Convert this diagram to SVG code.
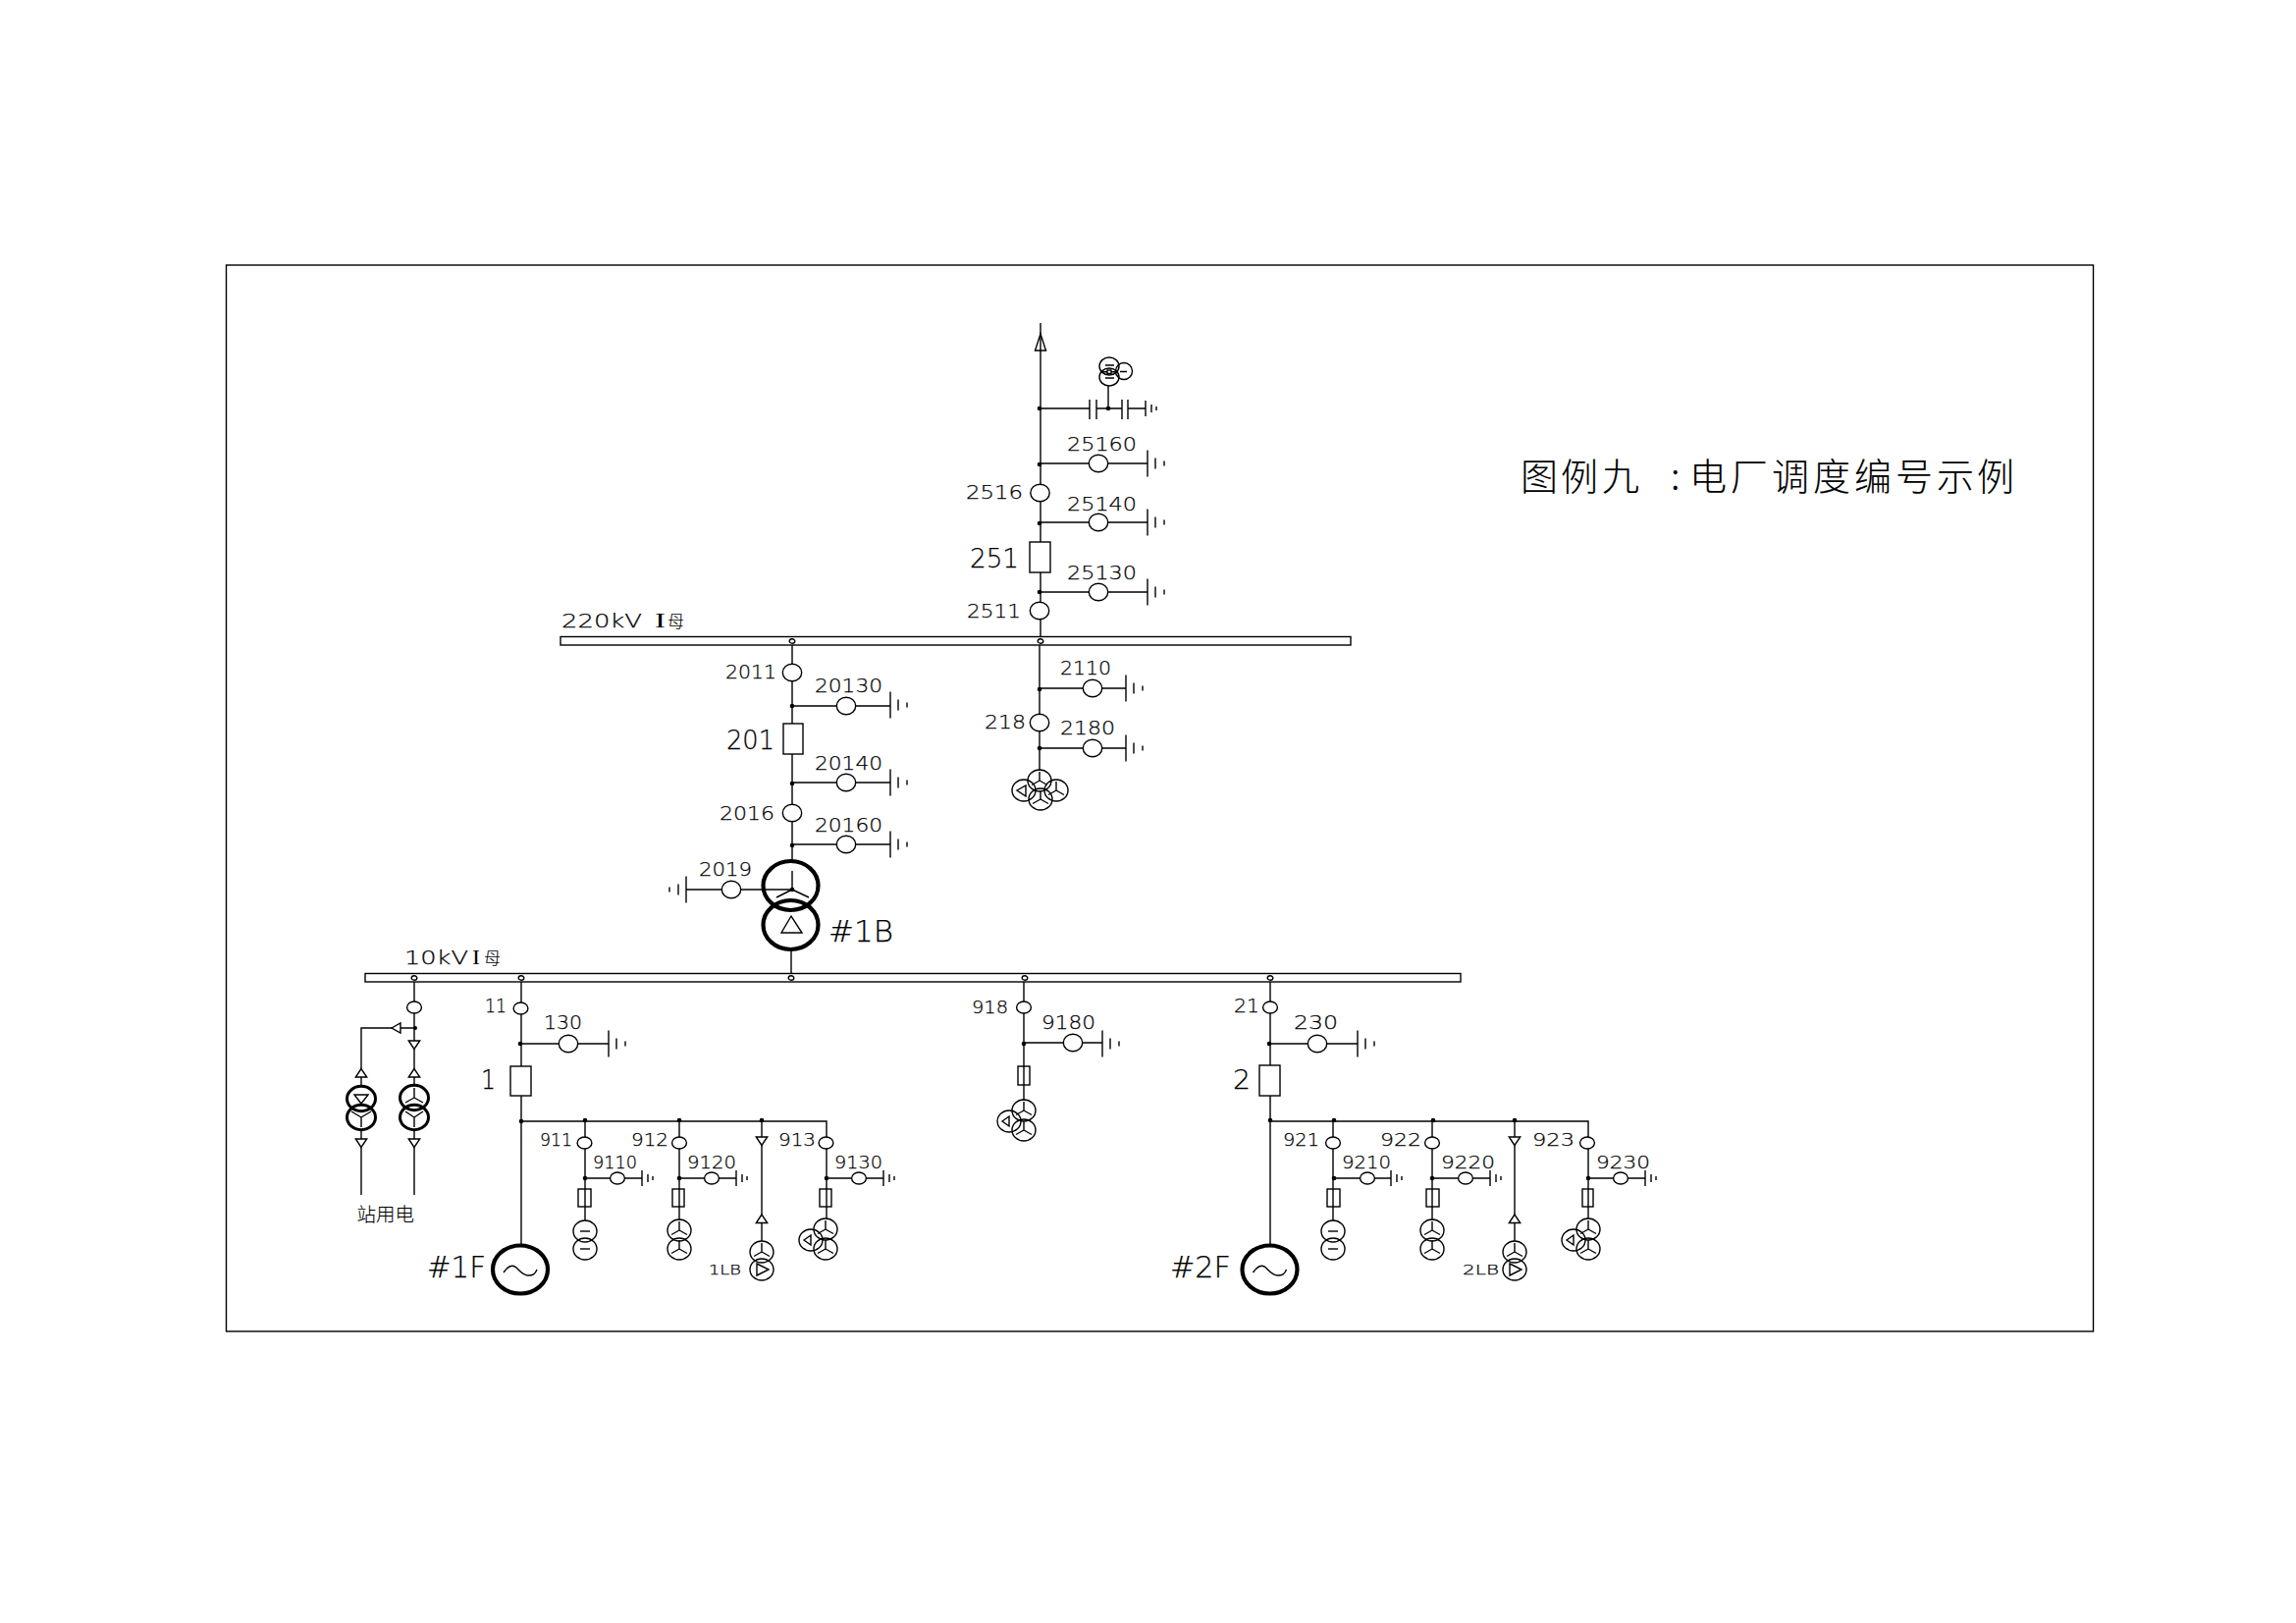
<svg xmlns="http://www.w3.org/2000/svg" width="2339" height="1653" viewBox="0 0 2339 1653">
<style>
text{font-family:"DejaVu Sans","Liberation Sans",sans-serif;font-weight:200;fill:#000;stroke:#000;stroke-width:.25}
.a{font-size:20px}.b{font-size:26px}.c{font-size:30px}.d{font-size:17.5px}.e{font-size:14px}
.z{font-family:"Noto Sans CJK SC","Noto Sans CJK JP",sans-serif;font-weight:300;stroke-width:.1}
.i{font-family:"Liberation Serif",serif;stroke:none}
path,rect,ellipse,polygon{stroke:#000;stroke-width:1.4;fill:none}
.w{fill:#fff}.k{stroke-width:4.2}.m{stroke-width:3}
.dot{fill:#000;stroke:none}
</style>
<defs>
<ellipse id="d" rx="9.7" ry="8.7" class="w"/>
<ellipse id="ds" rx="7.4" ry="6" class="w"/>
<ellipse id="mk" rx="2.8" ry="2.2" class="w"/>
<ellipse id="c" rx="12" ry="11"/>
<g id="gl"><path d="M0,-13.5V13.5M8,-5.5V5.5M17,-2.5V2.5"/></g>
<g id="gs"><path d="M0,-8V8M6,-4V4M11,-2V2"/></g>
<path id="star" d="M0,-9V0M0,0L-8,4.5M0,0L8,4.5"/>
<path id="dash" d="M-5,0H5"/>
<polygon id="tu" points="0,-4.5 -5.7,4 5.7,4" class="w"/>
<polygon id="td" points="0,4.5 -5.7,-4 5.7,-4" class="w"/>
<polygon id="tl" points="-4.5,0 4.5,-5 4.5,5" class="w"/>
<g id="gen"><ellipse rx="28" ry="24.5" class="k"/><path d="M-17,3C-13,-3 -8,-6 -4,-2S3,6 8,6S15,5 17,0"/></g>
<g id="dd"><use href="#c" y="-9"/><use href="#c" y="9"/><use href="#dash" y="-9"/><use href="#dash" y="9"/></g>
<g id="yy"><use href="#c" y="-9.5"/><use href="#c" y="9.5"/><use href="#star" y="-9.5"/><use href="#star" y="9.5"/></g>
<g id="tri"><use href="#c" x="15" y="-10"/><use href="#c" x="15" y="10"/><use href="#c" y="1"/><use href="#star" x="15" y="-10"/><use href="#star" x="15" y="10"/><polygon points="-7,1 0,-4 0,6"/></g>
<g id="lb"><use href="#c" y="-9"/><use href="#c" y="9"/><use href="#star" y="-9"/><polygon points="-5,3 -5,15 7,9"/></g>
</defs>

<rect id="frame" x="230.5" y="270" width="1902" height="1086"/>

<g id="connectors">
<path d="M1060,329V648M1059,657V785M1060,416H1110M1117,416H1143M1149,416H1167M1129,416V393M1060,472H1169M1060,532H1169M1060,603H1169M1059,701H1147M1059,762H1147"/>
<path d="M807,657V877M807,719H907M807,797H907M807,860H907M699,906H807M806,967V991"/>
<path d="M422,1000V1106M423,1047H368V1106M422,1150V1217M368,1150V1217"/>
<path d="M531,1000V1268M531,1063H620M531,1142H842V1241M596,1142V1243M596,1200H654M692,1142V1243M692,1200H750M776,1142V1264M842,1200H900"/>
<path d="M1043,1000V1121M1043,1062H1123"/>
<path d="M1294,1000V1268M1294,1063H1383M1294,1142H1618V1241M1358,1142V1243M1358,1200H1417M1459,1142V1243M1459,1200H1518M1543,1142V1264M1618,1200H1676"/>
<g class="dots">
<circle class="dot" cx="1059" cy="416" r="2.3"/><circle class="dot" cx="1129" cy="416" r="2.3"/><circle class="dot" cx="1059" cy="473" r="2.3"/><circle class="dot" cx="1059" cy="533" r="2.3"/><circle class="dot" cx="1059" cy="603" r="2.3"/><circle class="dot" cx="1059" cy="702" r="2.3"/><circle class="dot" cx="1059" cy="762" r="2.3"/>
<circle class="dot" cx="807" cy="719" r="2.3"/><circle class="dot" cx="807" cy="798" r="2.3"/><circle class="dot" cx="807" cy="861" r="2.3"/><circle class="dot" cx="807" cy="906" r="2.3"/>
<circle class="dot" cx="423" cy="1047" r="2"/><circle class="dot" cx="530" cy="1063" r="2.3"/><circle class="dot" cx="531" cy="1142" r="2.3"/><circle class="dot" cx="596" cy="1141" r="2.3"/><circle class="dot" cx="692" cy="1141" r="2.3"/><circle class="dot" cx="776" cy="1141" r="2.3"/><circle class="dot" cx="596" cy="1200" r="2.3"/><circle class="dot" cx="692" cy="1200" r="2.3"/><circle class="dot" cx="842" cy="1200" r="2.3"/>
<circle class="dot" cx="1043" cy="1063" r="2.3"/>
<circle class="dot" cx="1293" cy="1063" r="2.3"/><circle class="dot" cx="1294" cy="1141" r="2.3"/><circle class="dot" cx="1359" cy="1141" r="2.3"/><circle class="dot" cx="1460" cy="1141" r="2.3"/><circle class="dot" cx="1543" cy="1141" r="2.3"/><circle class="dot" cx="1359" cy="1200" r="2.3"/><circle class="dot" cx="1459" cy="1200" r="2.3"/><circle class="dot" cx="1618" cy="1200" r="2.3"/>
</g>
</g>

<g id="bus220"><rect x="571" y="648.5" width="805" height="8.5" class="w"/><use href="#mk" x="807" y="653"/><use href="#mk" x="1060" y="653"/>
<text class="a" x="572" y="639"><tspan textLength="82" lengthAdjust="spacingAndGlyphs">220kV</tspan> <tspan x="667" class="i" textLength="11" lengthAdjust="spacingAndGlyphs">I</tspan><tspan x="680" class="z" font-size="17">母</tspan></text></g>
<g id="bus10"><rect x="372" y="991.5" width="1116" height="8.5" class="w"/><use href="#mk" x="422" y="996"/><use href="#mk" x="531" y="996"/><use href="#mk" x="806" y="996"/><use href="#mk" x="1044" y="996"/><use href="#mk" x="1294" y="996"/>
<text class="a" x="412" y="982"><tspan textLength="65" lengthAdjust="spacingAndGlyphs">10kV</tspan> <tspan x="481" class="i" textLength="8" lengthAdjust="spacingAndGlyphs">I</tspan><tspan x="493" class="z" font-size="17">母</tspan></text></g>

<g id="line-arrow"><polygon points="1060,340 1054.5,357 1065.5,357"/></g>
<g id="pt"><path d="M1110,407V427M1117,407V427M1143,407V427M1149,407V427"/><use href="#gs" x="1167" y="416"/>
<ellipse cx="1130" cy="373" rx="10" ry="9"/><ellipse cx="1130" cy="384" rx="10" ry="9"/><ellipse cx="1145" cy="378" rx="8.5" ry="8.5"/><path d="M1126,372H1135M1126,385H1135M1141,378.5H1148M1123,378.7H1138" /><rect x="1128" y="377" width="4" height="3.4" class="w"/></g>

<g id="n25160"><use href="#d" x="1119" y="472"/><use href="#gl" x="1169" y="472"/><text class="a" x="1087" y="459" textLength="71" lengthAdjust="spacingAndGlyphs">25160</text></g>
<g id="n2516"><use href="#d" x="1059.5" y="502"/><text class="a" x="984" y="508" textLength="58" lengthAdjust="spacingAndGlyphs">2516</text></g>
<g id="n25140"><use href="#d" x="1119" y="532"/><use href="#gl" x="1169" y="532"/><text class="a" x="1087" y="520" textLength="71" lengthAdjust="spacingAndGlyphs">25140</text></g>
<g id="n251"><rect x="1049" y="552" width="21" height="31" class="w"/><text class="b" x="988" y="578" textLength="50" lengthAdjust="spacingAndGlyphs">251</text></g>
<g id="n25130"><use href="#d" x="1119" y="603"/><use href="#gl" x="1169" y="603"/><text class="a" x="1087" y="590" textLength="71" lengthAdjust="spacingAndGlyphs">25130</text></g>
<g id="n2511"><use href="#d" x="1059" y="622"/><text class="a" x="985" y="629" textLength="55" lengthAdjust="spacingAndGlyphs">2511</text></g>

<g id="n2110"><use href="#d" x="1113" y="701"/><use href="#gl" x="1147" y="701"/><text class="a" x="1080" y="687" textLength="52" lengthAdjust="spacingAndGlyphs">2110</text></g>
<g id="n218"><use href="#d" x="1059" y="736"/><text class="a" x="1003" y="742" textLength="42" lengthAdjust="spacingAndGlyphs">218</text></g>
<g id="n2180"><use href="#d" x="1113" y="762"/><use href="#gl" x="1147" y="762"/><text class="a" x="1080" y="748" textLength="56" lengthAdjust="spacingAndGlyphs">2180</text></g>
<g id="t218"><use href="#c" x="1059" y="795"/><use href="#c" x="1043" y="805"/><use href="#c" x="1076" y="805"/><use href="#c" x="1060" y="814"/><use href="#star" x="1059" y="795"/><use href="#star" x="1076" y="805"/><use href="#star" x="1060" y="814"/><polygon points="1036,805 1045,800 1045,811"/></g>

<g id="n2011"><use href="#d" x="807" y="685"/><text class="a" x="739" y="691" textLength="52" lengthAdjust="spacingAndGlyphs">2011</text></g>
<g id="n20130"><use href="#d" x="862" y="719"/><use href="#gl" x="907" y="718"/><text class="a" x="830" y="705" textLength="69" lengthAdjust="spacingAndGlyphs">20130</text></g>
<g id="n201"><rect x="798" y="737" width="20" height="31" class="w"/><text class="b" x="740" y="763" textLength="49" lengthAdjust="spacingAndGlyphs">201</text></g>
<g id="n20140"><use href="#d" x="862" y="797"/><use href="#gl" x="907" y="797"/><text class="a" x="830" y="784" textLength="69" lengthAdjust="spacingAndGlyphs">20140</text></g>
<g id="n2016"><use href="#d" x="807" y="828"/><text class="a" x="733" y="835" textLength="56" lengthAdjust="spacingAndGlyphs">2016</text></g>
<g id="n20160"><use href="#d" x="862" y="860"/><use href="#gl" x="907" y="860"/><text class="a" x="830" y="847" textLength="69" lengthAdjust="spacingAndGlyphs">20160</text></g>
<g id="n2019"><use href="#d" x="745" y="906"/><use href="#gl" x="699" y="906" transform="matrix(-1 0 0 1 1398 0)"/><text class="a" x="712" y="892" textLength="54" lengthAdjust="spacingAndGlyphs">2019</text></g>
<g id="t1B"><ellipse cx="805.5" cy="902" rx="28" ry="25" class="k"/><ellipse cx="805.5" cy="942" rx="28" ry="25" class="k"/><path d="M807,887V906M807,906L791,914M807,906L824,914"/><polygon points="806,933 796,950 817,950"/><text class="c" x="844" y="959" textLength="66" lengthAdjust="spacingAndGlyphs">#1B</text></g>

<g id="station"><use href="#ds" x="422" y="1026"/><use href="#tl" x="403.5" y="1047"/><use href="#td" x="422" y="1064"/><use href="#tu" x="422" y="1093"/><use href="#tu" x="368" y="1093"/>
<ellipse cx="368" cy="1119" rx="14.5" ry="12.7" class="m"/><ellipse cx="368" cy="1138" rx="14.5" ry="12.7" class="m"/><ellipse cx="422" cy="1118" rx="14.5" ry="12.7" class="m"/><ellipse cx="422" cy="1138" rx="14.5" ry="12.7" class="m"/>
<polygon points="361,1115 375,1115 368,1124"/><path d="M368,1138V1148M368,1138L358,1132M368,1138L378,1132M422,1108V1118M422,1118L413,1123M422,1118L431,1123M422,1138V1148M422,1138L413,1132M422,1138L431,1132"/>
<use href="#td" x="368" y="1164"/><use href="#td" x="422" y="1164"/>
<text class="z" x="363.5" y="1244" font-size="19.5">站用电</text></g>

<g id="n11"><use href="#ds" x="530.5" y="1027"/><text class="a" x="494" y="1031" textLength="22" lengthAdjust="spacingAndGlyphs">11</text></g>
<g id="n130"><use href="#d" x="579" y="1063"/><use href="#gl" x="620" y="1063"/><text class="a" x="554" y="1048" textLength="39" lengthAdjust="spacingAndGlyphs">130</text></g>
<g id="n1"><rect x="520" y="1086" width="21" height="30" class="w"/><text class="b" x="490" y="1109" textLength="15" lengthAdjust="spacingAndGlyphs">1</text></g>
<g id="g1F"><use href="#gen" x="530" y="1293"/><text class="c" x="435" y="1301" textLength="60" lengthAdjust="spacingAndGlyphs">#1F</text></g>

<g id="n911"><use href="#ds" x="595.5" y="1164"/><text class="d" x="550" y="1167" textLength="33" lengthAdjust="spacingAndGlyphs">911</text></g>
<g id="n9110"><use href="#ds" x="629" y="1200"/><use href="#gs" x="654" y="1200"/><rect x="589" y="1211" width="13" height="18"/><text class="d" x="604" y="1190" textLength="45" lengthAdjust="spacingAndGlyphs">9110</text></g>
<use id="t911" href="#dd" x="596" y="1263"/>
<g id="n912"><use href="#ds" x="692" y="1164"/><text class="d" x="643" y="1167" textLength="38" lengthAdjust="spacingAndGlyphs">912</text></g>
<g id="n9120"><use href="#ds" x="725" y="1200"/><use href="#gs" x="750" y="1200"/><rect x="685" y="1211" width="12" height="18"/><text class="d" x="700" y="1190" textLength="50" lengthAdjust="spacingAndGlyphs">9120</text></g>
<use id="t912" href="#yy" x="692" y="1262.5"/>
<g id="lb1"><use href="#td" x="776" y="1162"/><use href="#tu" x="776" y="1241.5"/><use href="#lb" x="776" y="1284"/><text class="e" x="722" y="1298" textLength="33" lengthAdjust="spacingAndGlyphs">1LB</text></g>
<g id="n913"><use href="#ds" x="841.5" y="1164"/><text class="d" x="793" y="1167" textLength="38" lengthAdjust="spacingAndGlyphs">913</text></g>
<g id="n9130"><use href="#ds" x="875" y="1200"/><use href="#gs" x="900" y="1200"/><rect x="835" y="1211" width="12" height="18"/><text class="d" x="850" y="1190" textLength="49" lengthAdjust="spacingAndGlyphs">9130</text></g>
<use id="t913" href="#tri" x="826" y="1262"/>

<g id="n918"><use href="#ds" x="1043" y="1026"/><text class="d" x="990" y="1032" textLength="37" lengthAdjust="spacingAndGlyphs">918</text></g>
<g id="n9180"><use href="#d" x="1093" y="1062"/><use href="#gl" x="1123" y="1063"/><rect x="1037" y="1086" width="12" height="19"/><text class="a" x="1061" y="1048" textLength="55" lengthAdjust="spacingAndGlyphs">9180</text></g>
<use id="t918" href="#tri" x="1028" y="1141"/>

<g id="n21"><use href="#ds" x="1294" y="1026"/><text class="a" x="1257" y="1031" textLength="26" lengthAdjust="spacingAndGlyphs">21</text></g>
<g id="n230"><use href="#d" x="1342" y="1063"/><use href="#gl" x="1383" y="1063"/><text class="a" x="1318" y="1048" textLength="45" lengthAdjust="spacingAndGlyphs">230</text></g>
<g id="n2"><rect x="1283" y="1085" width="21" height="31" class="w"/><text class="b" x="1256" y="1109" textLength="18" lengthAdjust="spacingAndGlyphs">2</text></g>
<g id="g2F"><use href="#gen" x="1293.5" y="1293"/><text class="c" x="1192" y="1301" textLength="62" lengthAdjust="spacingAndGlyphs">#2F</text></g>

<g id="n921"><use href="#ds" x="1358" y="1164"/><text class="d" x="1307" y="1167" textLength="37" lengthAdjust="spacingAndGlyphs">921</text></g>
<g id="n9210"><use href="#ds" x="1393" y="1200"/><use href="#gs" x="1417" y="1200"/><rect x="1352" y="1211" width="13" height="18"/><text class="d" x="1367" y="1190" textLength="50" lengthAdjust="spacingAndGlyphs">9210</text></g>
<use id="t921" href="#dd" x="1358" y="1263"/>
<g id="n922"><use href="#ds" x="1459" y="1164"/><text class="d" x="1406" y="1167" textLength="42" lengthAdjust="spacingAndGlyphs">922</text></g>
<g id="n9220"><use href="#ds" x="1493" y="1200"/><use href="#gs" x="1518" y="1200"/><rect x="1453" y="1211" width="13" height="18"/><text class="d" x="1468" y="1190" textLength="55" lengthAdjust="spacingAndGlyphs">9220</text></g>
<use id="t922" href="#yy" x="1459" y="1262.5"/>
<g id="lb2"><use href="#td" x="1543" y="1162"/><use href="#tu" x="1543" y="1241.5"/><use href="#lb" x="1543" y="1284"/><text class="e" x="1490" y="1298" textLength="37" lengthAdjust="spacingAndGlyphs">2LB</text></g>
<g id="n923"><use href="#ds" x="1617" y="1164"/><text class="d" x="1561" y="1167" textLength="43" lengthAdjust="spacingAndGlyphs">923</text></g>
<g id="n9230"><use href="#ds" x="1651" y="1200"/><use href="#gs" x="1676" y="1200"/><rect x="1612" y="1211" width="11" height="18"/><text class="d" x="1626" y="1190" textLength="55" lengthAdjust="spacingAndGlyphs">9230</text></g>
<use id="t923" href="#tri" x="1603" y="1262"/>

<text id="title" class="z" y="499" font-size="38" x="1549 1590 1632 1672 1702 1721 1763 1805 1847 1889 1931 1973 2014">图例九 :电厂调度编号示例</text>
</svg>
